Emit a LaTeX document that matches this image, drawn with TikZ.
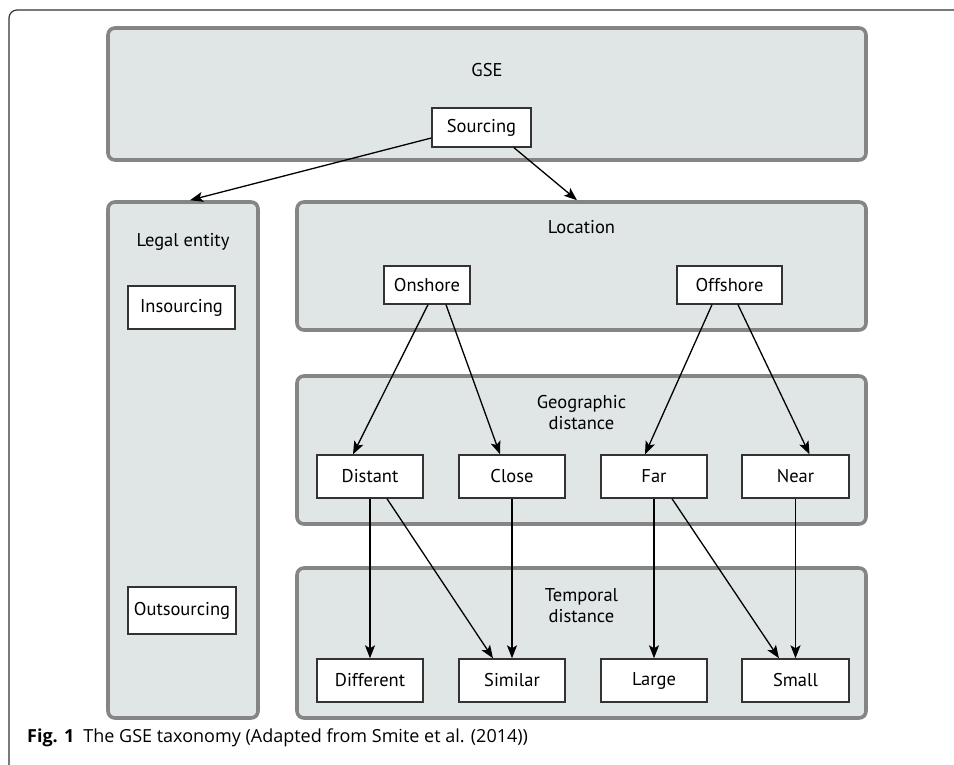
\documentclass[tikz,border=0pt]{standalone}
\usepackage{fontspec}
\setmainfont{PT Sans}
\newfontfamily\capfont{Open Sans}
\usetikzlibrary{arrows.meta}
\definecolor{panelfill}{HTML}{DFE6E5}
\definecolor{panelline}{HTML}{858585}
\definecolor{boxline}{HTML}{333333}
\tikzset{
  panel/.style={draw=panelline, line width=3.6pt, fill=panelfill, rounded corners=7pt, inner sep=0pt},
  item/.style={draw=boxline, line width=1.4pt, fill=white, inner sep=0pt, font=\fontsize{18.5}{22}\selectfont},
  ptitle/.style={font=\fontsize{18.5}{21}\selectfont, align=center, inner sep=0pt},
  arr/.style={line width=1.3pt, -{Stealth[length=13pt,width=10pt,inset=3pt]}},
}
\begin{document}
\begin{tikzpicture}[x=1pt,y=-1pt]
\useasboundingbox (0,0) rectangle (954,765);
% outer frame
\draw[line width=1.2pt, draw=black!80, rounded corners=8pt] (954,10) -- (9,10) -- (9,765);
% panels
\node[panel, minimum width=758pt, minimum height=132pt] (gse) at (487,94) {};
\node[panel, minimum width=150pt, minimum height=516pt] (legal) at (183,460) {};
\node[panel, minimum width=569pt, minimum height=128pt] (location) at (581.5,266) {};
\node[panel, minimum width=569pt, minimum height=148pt] (geo) at (581.5,450) {};
\node[panel, minimum width=569pt, minimum height=150pt] (temp) at (581.5,643) {};
% panel titles
\node[ptitle] (gset) at (487,70) {GSE};
\node[ptitle] (legalt) at (183,242) {Legal entity};
\node[ptitle] (locationt) at (581.5,227) {Location};
\node[ptitle] (geot) at (581.5,413) {Geographic\\distance};
\node[ptitle] (tempt) at (581.5,606) {Temporal\\distance};
% items
\node[item, minimum width=99pt, minimum height=39pt] (sourcing) at (481.5,127.5) {Sourcing};
\node[item, minimum width=107pt, minimum height=43pt] (insourcing) at (181.5,307.5) {Insourcing};
\node[item, minimum width=108pt, minimum height=47pt] (outsourcing) at (182,610.5) {Outsourcing};
\node[item, minimum width=86pt, minimum height=38pt] (onshore) at (427,285) {Onshore};
\node[item, minimum width=105pt, minimum height=38pt] (offshore) at (729.5,285) {Offshore};
\node[item, minimum width=106pt, minimum height=43pt] (distant) at (370,476.5) {Distant};
\node[item, minimum width=106pt, minimum height=43pt] (close) at (512,476.5) {Close};
\node[item, minimum width=106pt, minimum height=43pt] (far) at (654,476.5) {Far};
\node[item, minimum width=107pt, minimum height=43pt] (near) at (795.5,476.5) {Near};
\node[item, minimum width=106pt, minimum height=43pt] (different) at (370,680.5) {Different};
\node[item, minimum width=106pt, minimum height=43pt] (similar) at (512,680.5) {Similar};
\node[item, minimum width=106pt, minimum height=43pt] (large) at (654,680.5) {Large};
\node[item, minimum width=107pt, minimum height=43pt] (small) at (795.5,680.5) {Small};
% arrows
\draw[arr] ([yshift=-10.5pt]sourcing.west) -- ([xshift=7pt]legal.north);
\draw[arr] ([xshift=32.5pt]sourcing.south) -- ([xshift=-4.5pt]location.north);
\draw[arr] ([xshift=1pt]onshore.south) -- ([xshift=-17pt]distant.north);
\draw[arr] ([xshift=19pt]onshore.south) -- ([xshift=-12pt]close.north);
\draw[arr] ([xshift=-17.5pt]offshore.south) -- ([xshift=-9pt]far.north);
\draw[arr] ([xshift=8.5pt]offshore.south) -- ([xshift=14pt]near.north);
\draw[arr] (distant.south) -- (different.north);
\draw[arr] ([xshift=17pt]distant.south) -- ([xshift=-19pt]similar.north);
\draw[arr] (close.south) -- (similar.north);
\draw[arr] (far.south) -- (large.north);
\draw[arr] ([xshift=18pt]far.south) -- ([xshift=-16.5pt]small.north);
\draw[arr] (near.south) -- (small.north);
% caption
\node[anchor=base west, inner sep=0pt, font=\capfont\fontsize{18}{21}\selectfont] (caption) at (27,742) {\textbf{Fig. 1}\hspace{0.5em}The GSE taxonomy (Adapted from Smite et al. (2014))};
\end{tikzpicture}
\end{document}
